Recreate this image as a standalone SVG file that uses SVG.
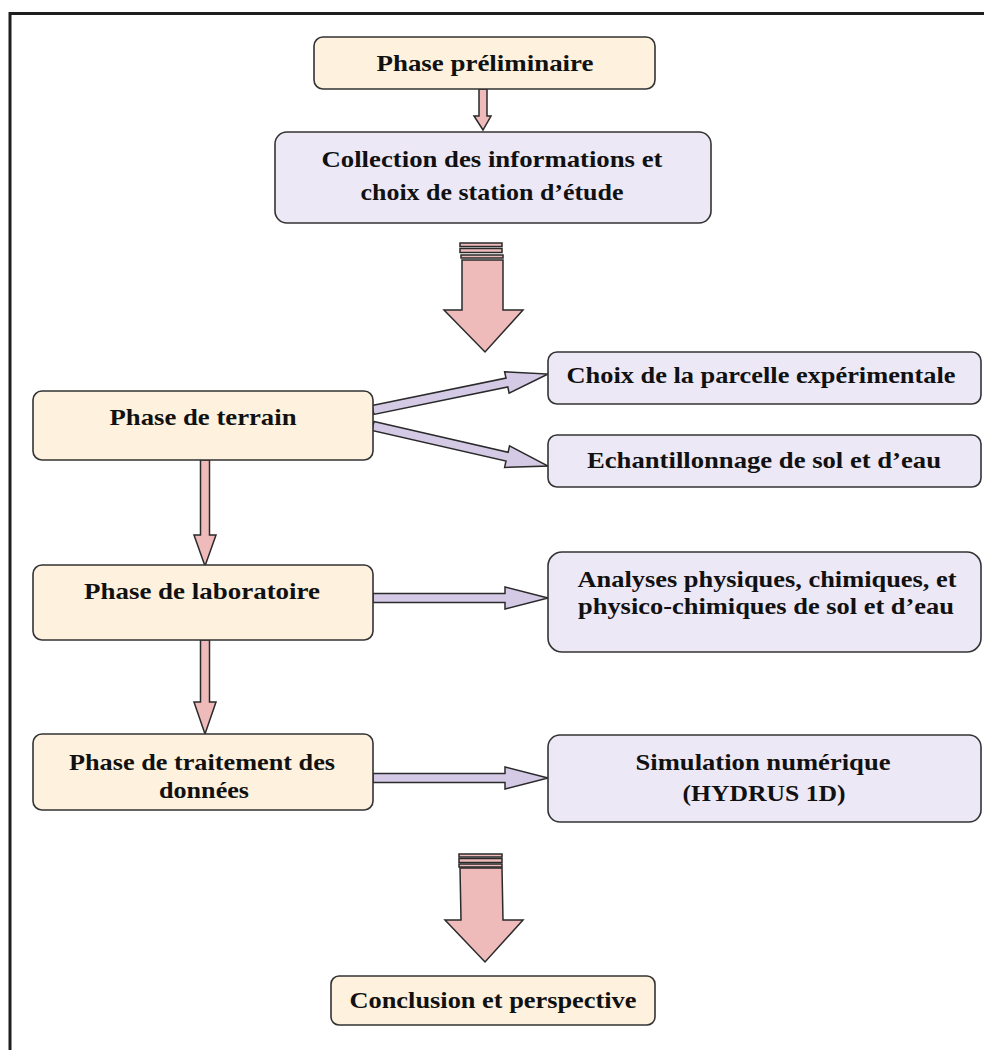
<svg xmlns="http://www.w3.org/2000/svg" width="984" height="1050" viewBox="0 0 984 1050">
<style>
.frame{fill:none;stroke:#1e1e1e;stroke-width:3}
.cream{fill:#FEF1DE;stroke:#333;stroke-width:1.6}
.lilac{fill:#EDE8F6;stroke:#333;stroke-width:1.6}
.pink{fill:#EEBABA;stroke:#2a2a2a;stroke-width:1.5;stroke-linejoin:miter}
.purp{fill:#D5CAE6;stroke:#2a2a2a;stroke-width:1.5;stroke-linejoin:miter}
text{font-family:"Liberation Serif","Times New Roman",serif;font-weight:bold;font-size:23.5px;fill:#111;text-anchor:middle}
</style>
<rect width="984" height="1050" fill="#fff"/>
<path class="frame" d="M10,1050 V13.5 H984"/>

<g id="connectors">
  <polygon class="pink" points="479,89 487,89 487,116 491,116 483,130 474,116 479,116"/>
  <g>
    <rect class="pink" x="460" y="243" width="42" height="3.5"/>
    <rect class="pink" x="460" y="248.5" width="42" height="4"/>
    <rect class="pink" x="461" y="255" width="42" height="3"/>
    <polygon class="pink" points="462,260 503,260 503,310 523,310 485,352 444,310 462,310"/>
  </g>
  <polygon class="purp" points="372.1,405.6 506.0,378.1 504.6,371.7 548,374 509.1,393.2 507.8,386.9 373.9,414.4"/>
  <polygon class="purp" points="374.0,421.6 508.1,452.3 509.5,445.9 548,466 504.6,467.4 506.0,461.0 372.0,430.4"/>
  <polygon class="pink" points="200.5,460 209.5,460 209.5,535 216,535 205,566 194,535 200.5,535"/>
  <polygon class="purp" points="373,593.5 505,593.5 505,587 548,598 505,609 505,602.5 373,602.5"/>
  <polygon class="pink" points="200.5,640 209.5,640 209.5,702 216,702 205,734 194,702 200.5,702"/>
  <polygon class="purp" points="373,773.5 505,773.5 505,767 548,778 505,789 505,782.5 373,782.5"/>
  <g>
    <rect class="pink" x="459" y="854" width="43" height="3"/>
    <rect class="pink" x="459" y="858.5" width="43" height="4"/>
    <rect class="pink" x="459" y="864" width="43" height="3"/>
    <polygon class="pink" points="460,868 502,868 503,920 523,920 485,962 445,920 461,920"/>
  </g>
</g>

<g id="n-preliminaire">
  <rect class="cream" x="314" y="37" width="341" height="52" rx="9"/>
  <text x="485" y="71" textLength="217" lengthAdjust="spacingAndGlyphs">Phase préliminaire</text>
</g>
<g id="n-collection">
  <rect class="lilac" x="275" y="132" width="436" height="91" rx="12"/>
  <text x="492" y="167" textLength="341" lengthAdjust="spacingAndGlyphs">Collection des informations et</text>
  <text x="492" y="200" textLength="263" lengthAdjust="spacingAndGlyphs">choix de station d’étude</text>
</g>
<g id="n-terrain">
  <rect class="cream" x="33" y="391" width="340" height="69" rx="9"/>
  <text x="203" y="425" textLength="187" lengthAdjust="spacingAndGlyphs">Phase de terrain</text>
</g>
<g id="n-choix">
  <rect class="lilac" x="548" y="352" width="433" height="52" rx="9"/>
  <text x="761" y="383" textLength="389" lengthAdjust="spacingAndGlyphs">Choix de la parcelle expérimentale</text>
</g>
<g id="n-echantillonnage">
  <rect class="lilac" x="548" y="435" width="433" height="52" rx="9"/>
  <text x="764" y="468" textLength="354" lengthAdjust="spacingAndGlyphs">Echantillonnage de sol et d’eau</text>
</g>
<g id="n-labo">
  <rect class="cream" x="33" y="565" width="340" height="75" rx="9"/>
  <text x="202" y="599" textLength="236" lengthAdjust="spacingAndGlyphs">Phase de laboratoire</text>
</g>
<g id="n-analyses">
  <rect class="lilac" x="548" y="552" width="433" height="100" rx="14"/>
  <text x="767" y="587" textLength="379" lengthAdjust="spacingAndGlyphs">Analyses physiques, chimiques, et</text>
  <text x="766" y="614" textLength="376" lengthAdjust="spacingAndGlyphs">physico-chimiques de sol et d’eau</text>
</g>
<g id="n-traitement">
  <rect class="cream" x="33" y="734" width="340" height="76" rx="9"/>
  <text x="202" y="770" textLength="266" lengthAdjust="spacingAndGlyphs">Phase de traitement des</text>
  <text x="204" y="798" textLength="90" lengthAdjust="spacingAndGlyphs">données</text>
</g>
<g id="n-simulation">
  <rect class="lilac" x="548" y="735" width="433" height="87" rx="12"/>
  <text x="763" y="770" textLength="255" lengthAdjust="spacingAndGlyphs">Simulation numérique</text>
  <text x="764" y="801" textLength="163" lengthAdjust="spacingAndGlyphs">(HYDRUS 1D)</text>
</g>
<g id="n-conclusion">
  <rect class="cream" x="331" y="976" width="324" height="49" rx="8"/>
  <text x="493" y="1008" textLength="287" lengthAdjust="spacingAndGlyphs">Conclusion et perspective</text>
</g>
</svg>
